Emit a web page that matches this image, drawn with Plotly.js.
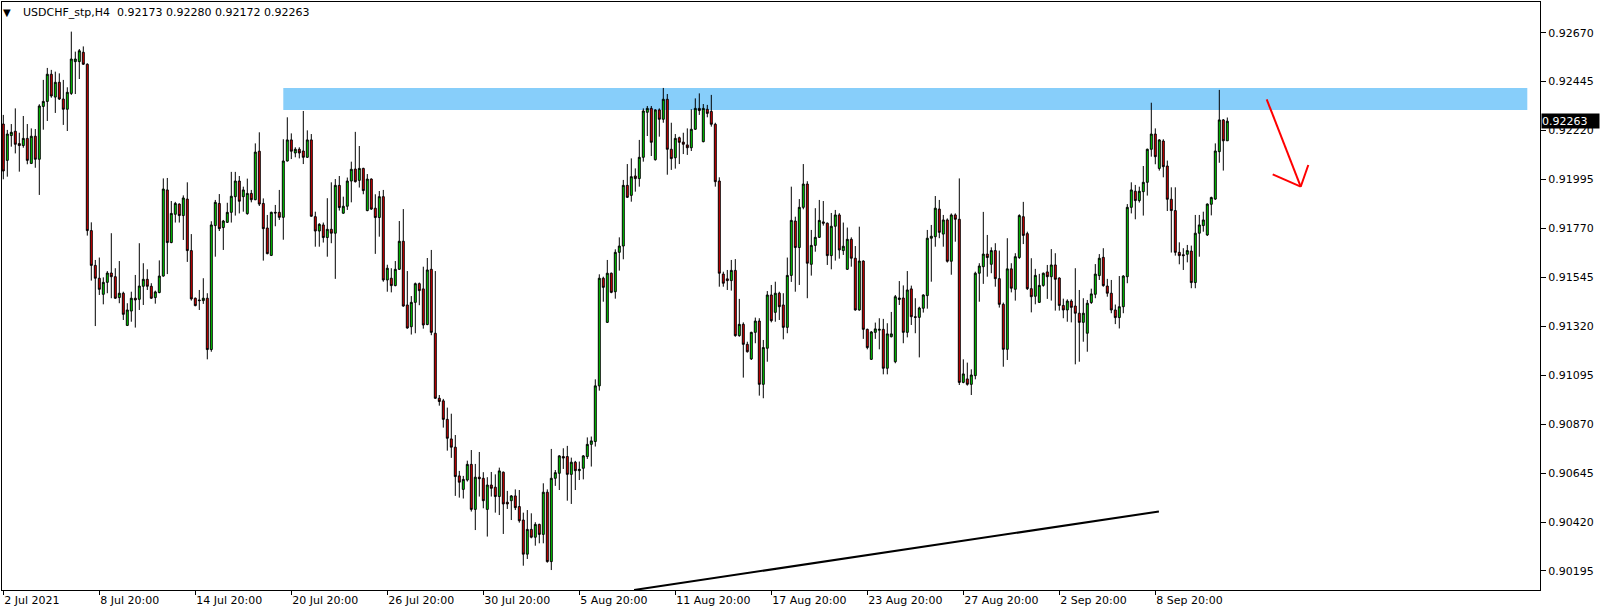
<!DOCTYPE html>
<html>
<head>
<meta charset="utf-8">
<script src="https://cdn.plot.ly/plotly-3.0.1.min.js"></script>
<style>
  html, body { margin: 0; padding: 0; background: #fff; }
  #chart { width: 1604px; height: 614px; }
</style>
</head>
<body>
<div id="chart"></div>
<script>
// ---- DATA (USDCHF_stp, H4) ----
const symbol = "USDCHF_stp,H4";

const openP = [
0.92250,0.92083,0.92197,0.92217,0.92160,0.92151,0.92184,0.92069,0.92194,0.92088,
0.92331,0.92354,0.92479,0.92374,0.92442,0.92365,0.92318,0.92391,0.92537,0.92537,
0.92580,0.92525,0.91760,0.91600,0.91541,0.91467,0.91522,0.91565,0.91548,0.91452,
0.91472,0.91324,0.91390,0.91449,0.91444,0.91504,0.91536,0.91504,0.91452,0.91475,
0.91551,0.91947,0.91705,0.91835,0.91882,0.91829,0.91905,0.91668,0.91449,0.91441,
0.91438,0.91449,0.91213,0.91783,0.91885,0.91774,0.91798,0.91844,0.91916,0.91988,
0.91916,0.91838,0.91931,0.91902,0.92125,0.91885,0.91772,0.91646,0.91844,0.91844,
0.91821,0.92080,0.92177,0.92117,0.92134,0.92126,0.92097,0.92177,0.91824,0.91758,
0.91786,0.91728,0.91766,0.91748,0.91968,0.91840,0.91872,0.91988,0.92043,0.91991,
0.92046,0.91852,0.91997,0.91863,0.91820,0.91916,0.91533,0.91541,0.91507,0.91582,
0.91711,0.91418,0.91318,0.91430,0.91516,0.91492,0.91328,0.91582,0.91288,0.90989,
0.90977,0.90892,0.90802,0.90764,0.90632,0.90570,0.90613,0.90685,0.90478,0.90626,
0.90621,0.90478,0.90590,0.90580,0.90537,0.90649,0.90511,0.90518,0.90540,0.90491,
0.90429,0.90272,0.90386,0.90350,0.90409,0.90363,0.90557,0.90238,0.90621,0.90644,
0.90721,0.90721,0.90639,0.90695,0.90656,0.90667,0.90721,0.90777,0.90790,0.91046,
0.91541,0.91338,0.91564,0.91479,0.91660,0.91689,0.91968,0.91922,0.92011,0.91999,
0.92097,0.92304,0.92322,0.92086,0.92315,0.92272,0.92364,0.92134,0.92095,0.92187,
0.92167,0.92154,0.92141,0.92226,0.92322,0.92169,0.92318,0.92308,0.92249,0.91988,
0.91560,0.91538,0.91530,0.91577,0.91277,0.91329,0.91237,0.91170,0.91292,0.91344,
0.91053,0.91219,0.91464,0.91384,0.91472,0.91418,0.91315,0.91554,0.91804,0.91682,
0.91867,0.91974,0.91605,0.91692,0.91729,0.91800,0.91794,0.91645,0.91780,0.91832,
0.91668,0.91582,0.91720,0.91633,0.91395,0.91620,0.91306,0.91168,0.91292,0.91302,
0.91306,0.91127,0.91272,0.91157,0.91443,0.91450,0.91292,0.91492,0.91364,0.91361,
0.91403,0.91461,0.91725,0.91732,0.91859,0.91744,0.91809,0.91619,0.91832,0.91812,
0.91062,0.91078,0.91053,0.91093,0.91564,0.91594,0.91652,0.91605,0.91668,0.91539,
0.91421,0.91214,0.91584,0.91490,0.91636,0.91824,0.91746,0.91493,0.91458,0.91430,
0.91508,0.91570,0.91548,0.91602,0.91542,0.91416,0.91395,0.91436,0.91413,0.91380,
0.91338,0.91288,0.91429,0.91467,0.91553,0.91637,0.91505,0.91472,0.91395,0.91360,
0.91410,0.91548,0.91867,0.91941,0.91898,0.91939,0.91982,0.92134,0.92204,0.92046,
0.92172,0.92057,0.91904,0.91852,0.91660,0.91649,0.91651,0.91666,0.91521,0.91748,
0.91783,0.91740,0.91881,0.91905,0.92123,0.92269,0.92173];

const highP = [
0.92292,0.92223,0.92250,0.92322,0.92210,0.92287,0.92250,0.92230,0.92227,0.92341,
0.92453,0.92508,0.92499,0.92491,0.92483,0.92453,0.92419,0.92675,0.92583,0.92595,
0.92607,0.92529,0.91798,0.91625,0.91636,0.91545,0.91574,0.91748,0.91587,0.91620,
0.91479,0.91426,0.91479,0.91556,0.91702,0.91610,0.91582,0.91518,0.91484,0.91623,
0.92000,0.92002,0.91896,0.91892,0.91885,0.91922,0.91982,0.91744,0.91452,0.91487,
0.91541,0.91472,0.91803,0.91901,0.91928,0.91809,0.91888,0.92030,0.92030,0.92011,
0.91962,0.91999,0.91947,0.92161,0.92212,0.91908,0.91832,0.91847,0.91878,0.91947,
0.92180,0.92281,0.92207,0.92143,0.92143,0.92310,0.92221,0.92204,0.91847,0.91794,
0.91797,0.91909,0.91982,0.91997,0.92011,0.91916,0.92004,0.92077,0.92214,0.92149,
0.92049,0.92020,0.92000,0.91927,0.91942,0.91947,0.91603,0.91587,0.91620,0.91804,
0.91859,0.91574,0.91459,0.91521,0.91521,0.91594,0.91634,0.91671,0.91574,0.91004,
0.90986,0.90946,0.90918,0.90820,0.90655,0.90632,0.90702,0.90751,0.90687,0.90742,
0.90649,0.90626,0.90650,0.90639,0.90670,0.90652,0.90563,0.90544,0.90570,0.90567,
0.90463,0.90475,0.90460,0.90419,0.90412,0.90598,0.90570,0.90756,0.90659,0.90727,
0.90759,0.90770,0.90716,0.90701,0.90698,0.90728,0.90809,0.90813,0.91076,0.91559,
0.91548,0.91625,0.91567,0.91674,0.91729,0.91993,0.92066,0.92092,0.92046,0.92177,
0.92322,0.92333,0.92333,0.92318,0.92322,0.92416,0.92388,0.92256,0.92204,0.92192,
0.92210,0.92230,0.92318,0.92368,0.92391,0.92342,0.92338,0.92384,0.92256,0.92005,
0.91571,0.91579,0.91625,0.91629,0.91446,0.91338,0.91249,0.91295,0.91360,0.91357,
0.91257,0.91482,0.91510,0.91525,0.91479,0.91472,0.91636,0.91962,0.91824,0.91905,
0.92066,0.91987,0.91763,0.91863,0.91901,0.91896,0.91797,0.91841,0.91855,0.91840,
0.91797,0.91774,0.91729,0.91689,0.91778,0.91623,0.91309,0.91298,0.91337,0.91357,
0.91354,0.91334,0.91386,0.91464,0.91528,0.91508,0.91574,0.91507,0.91449,0.91410,
0.91467,0.91763,0.91786,0.91919,0.91901,0.91832,0.91816,0.91839,0.91839,0.92000,
0.91168,0.91153,0.91122,0.91571,0.91610,0.91846,0.91740,0.91683,0.91702,0.91668,
0.91429,0.91725,0.91610,0.91656,0.91835,0.91892,0.91755,0.91633,0.91584,0.91561,
0.91567,0.91602,0.91675,0.91656,0.91545,0.91447,0.91444,0.91444,0.91587,0.91487,
0.91449,0.91441,0.91493,0.91606,0.91652,0.91679,0.91538,0.91533,0.91420,0.91551,
0.91555,0.91882,0.91982,0.91970,0.91962,0.92057,0.92137,0.92348,0.92230,0.92180,
0.92180,0.92082,0.91959,0.91959,0.91706,0.91679,0.91694,0.91691,0.91832,0.91832,
0.91847,0.91885,0.91916,0.92161,0.92407,0.92273,0.92280];

const lowP = [
0.91996,0.92008,0.92146,0.92115,0.92031,0.92141,0.92065,0.92066,0.92049,0.91924,
0.92224,0.92264,0.92371,0.92301,0.92361,0.92246,0.92218,0.92384,0.92388,0.92457,
0.92522,0.91737,0.91530,0.91321,0.91464,0.91421,0.91472,0.91449,0.91446,0.91426,
0.91349,0.91321,0.91341,0.91314,0.91395,0.91418,0.91487,0.91446,0.91424,0.91472,
0.91548,0.91560,0.91702,0.91797,0.91797,0.91717,0.91616,0.91438,0.91412,0.91395,
0.91423,0.91168,0.91203,0.91640,0.91758,0.91671,0.91795,0.91797,0.91829,0.91839,
0.91847,0.91833,0.91890,0.91900,0.91873,0.91622,0.91651,0.91643,0.91780,0.91809,
0.91718,0.92078,0.92089,0.92097,0.92092,0.92066,0.92094,0.91824,0.91686,0.91686,
0.91705,0.91640,0.91702,0.91538,0.91852,0.91837,0.91855,0.91890,0.91981,0.91958,
0.91927,0.91849,0.91855,0.91653,0.91732,0.91525,0.91479,0.91476,0.91504,0.91579,
0.91410,0.91309,0.91282,0.91288,0.91417,0.91309,0.91325,0.91279,0.90986,0.90955,
0.90854,0.90748,0.90715,0.90540,0.90532,0.90528,0.90606,0.90468,0.90383,0.90537,
0.90483,0.90353,0.90537,0.90463,0.90452,0.90365,0.90480,0.90429,0.90475,0.90417,
0.90219,0.90250,0.90345,0.90311,0.90322,0.90322,0.90233,0.90199,0.90586,0.90567,
0.90664,0.90518,0.90503,0.90567,0.90613,0.90616,0.90710,0.90675,0.90767,0.91024,
0.91433,0.91335,0.91472,0.91447,0.91576,0.91628,0.91910,0.91893,0.91939,0.91962,
0.92077,0.92195,0.92103,0.92082,0.92192,0.92256,0.92017,0.92039,0.92045,0.92066,
0.92112,0.92108,0.92126,0.92223,0.92292,0.92166,0.92281,0.92238,0.91962,0.91502,
0.91502,0.91487,0.91484,0.91272,0.91272,0.91084,0.91199,0.91165,0.91242,0.91001,
0.90989,0.91157,0.91338,0.91341,0.91349,0.91260,0.91288,0.91524,0.91479,0.91510,
0.91858,0.91449,0.91553,0.91663,0.91726,0.91783,0.91602,0.91582,0.91622,0.91631,
0.91648,0.91579,0.91594,0.91392,0.91392,0.91262,0.91214,0.91165,0.91262,0.91214,
0.91099,0.91099,0.91269,0.91150,0.91418,0.91242,0.91269,0.91326,0.91288,0.91177,
0.91383,0.91401,0.91525,0.91686,0.91725,0.91686,0.91613,0.91557,0.91709,0.91050,
0.91058,0.91047,0.91004,0.91076,0.91433,0.91515,0.91548,0.91564,0.91502,0.91406,
0.91134,0.91165,0.91476,0.91438,0.91630,0.91698,0.91487,0.91384,0.91421,0.91427,
0.91502,0.91446,0.91438,0.91392,0.91392,0.91357,0.91341,0.91338,0.91145,0.91157,
0.91249,0.91203,0.91423,0.91449,0.91533,0.91502,0.91456,0.91380,0.91330,0.91310,
0.91380,0.91518,0.91839,0.91812,0.91889,0.91829,0.91921,0.92100,0.92065,0.92036,
0.92005,0.91850,0.91659,0.91645,0.91605,0.91579,0.91614,0.91495,0.91495,0.91640,
0.91755,0.91735,0.91830,0.91901,0.92072,0.92036,0.92172];

const closeP = [
0.92034,0.92204,0.92212,0.92157,0.92151,0.92184,0.92083,0.92194,0.92088,0.92333,
0.92354,0.92479,0.92379,0.92442,0.92365,0.92318,0.92396,0.92549,0.92549,0.92587,
0.92525,0.91760,0.91600,0.91541,0.91490,0.91522,0.91565,0.91548,0.91449,0.91472,
0.91375,0.91395,0.91449,0.91441,0.91505,0.91536,0.91504,0.91449,0.91478,0.91551,
0.91951,0.91705,0.91839,0.91885,0.91829,0.91910,0.91668,0.91446,0.91415,0.91438,
0.91449,0.91213,0.91786,0.91890,0.91769,0.91804,0.91844,0.91918,0.91988,0.91895,
0.91947,0.91931,0.91902,0.92121,0.91882,0.91769,0.91654,0.91844,0.91841,0.91821,
0.92080,0.92177,0.92125,0.92134,0.92117,0.92097,0.92177,0.91826,0.91758,0.91789,
0.91728,0.91766,0.91748,0.91968,0.91866,0.91872,0.91988,0.92042,0.91985,0.92046,
0.91944,0.91997,0.91859,0.91820,0.91916,0.91533,0.91587,0.91507,0.91582,0.91711,
0.91413,0.91312,0.91430,0.91516,0.91484,0.91326,0.91579,0.91292,0.90989,0.90974,
0.90892,0.90805,0.90764,0.90629,0.90603,0.90616,0.90685,0.90478,0.90626,0.90619,
0.90518,0.90590,0.90575,0.90537,0.90655,0.90503,0.90503,0.90540,0.90486,0.90426,
0.90272,0.90386,0.90350,0.90409,0.90363,0.90557,0.90238,0.90621,0.90647,0.90724,
0.90714,0.90639,0.90695,0.90656,0.90662,0.90724,0.90777,0.90793,0.91046,0.91541,
0.91499,0.91564,0.91476,0.91660,0.91689,0.91968,0.91913,0.92008,0.91999,0.92097,
0.92310,0.92322,0.92166,0.92315,0.92272,0.92364,0.92134,0.92091,0.92184,0.92166,
0.92157,0.92141,0.92226,0.92322,0.92312,0.92322,0.92299,0.92249,0.91985,0.91564,
0.91518,0.91530,0.91577,0.91277,0.91329,0.91237,0.91203,0.91292,0.91344,0.91053,
0.91222,0.91464,0.91346,0.91472,0.91410,0.91315,0.91554,0.91807,0.91682,0.91867,
0.91974,0.91610,0.91692,0.91729,0.91807,0.91794,0.91645,0.91780,0.91832,0.91671,
0.91688,0.91720,0.91633,0.91395,0.91620,0.91306,0.91222,0.91294,0.91308,0.91306,
0.91127,0.91285,0.91285,0.91456,0.91450,0.91292,0.91487,0.91364,0.91361,0.91404,
0.91464,0.91725,0.91734,0.91863,0.91752,0.91809,0.91619,0.91832,0.91812,0.91062,
0.91101,0.91053,0.91096,0.91564,0.91597,0.91652,0.91636,0.91668,0.91539,0.91421,
0.91214,0.91584,0.91495,0.91640,0.91829,0.91738,0.91493,0.91456,0.91554,0.91508,
0.91564,0.91548,0.91602,0.91536,0.91416,0.91395,0.91436,0.91407,0.91380,0.91338,
0.91380,0.91426,0.91469,0.91560,0.91633,0.91507,0.91472,0.91395,0.91360,0.91410,
0.91551,0.91867,0.91947,0.91898,0.91941,0.91982,0.92134,0.92204,0.92100,0.92177,
0.92054,0.91904,0.91852,0.91660,0.91645,0.91645,0.91668,0.91521,0.91748,0.91786,
0.91809,0.91882,0.91912,0.92126,0.92269,0.92173,0.92263];

// time-axis labels (one every 24 H4 bars) and price-axis labels
const timeTickBars   = [0, 24, 48, 72, 96, 120, 144, 168, 192, 216, 240, 264, 288];
const timeTickLabels = ["2 Jul 2021","8 Jul 20:00","14 Jul 20:00","20 Jul 20:00","26 Jul 20:00",
  "30 Jul 20:00","5 Aug 20:00","11 Aug 20:00","17 Aug 20:00","23 Aug 20:00",
  "27 Aug 20:00","2 Sep 20:00","8 Sep 20:00"];
const priceTicks = [0.92670,0.92445,0.92220,0.91995,0.91770,0.91545,0.91320,0.91095,0.90870,0.90645,0.90420,0.90195];

// drawn objects (bar index, price)
const zoneBars   = [70, 381];
const zonePrices = [0.923145, 0.924157];
const trendBars   = [157.7, 288.9];
const trendPrices = [0.901073, 0.904683];
const arrowBars   = [315.85, 324.35, 317.35, 326.25];   // start, tip, left arm, right arm
const arrowPrices = [0.923637, 0.919618, 0.920189, 0.920616];

// ---- CHART ----
const barIdx = openP.map((_, i) => i);
const n = closeP.length;
const FONT = "DejaVu Sans, Verdana, sans-serif";

const trace = {
  type: "candlestick",
  x: barIdx, open: openP, high: highP, low: lowP, close: closeP,
  increasing: { line: { color: "#000000", width: 1 }, fillcolor: "#00e000" },
  decreasing: { line: { color: "#000000", width: 1 }, fillcolor: "#e60000" },
  whiskerwidth: 0,
  hoverinfo: "skip"
};

const shapes = [
  { type: "rect", xref: "x", yref: "y", x0: zoneBars[0], x1: zoneBars[1], y0: zonePrices[0], y1: zonePrices[1],
    fillcolor: "#87cefa", line: { width: 0 }, layer: "below" },
  { type: "line", xref: "x", yref: "y", x0: trendBars[0], y0: trendPrices[0], x1: trendBars[1], y1: trendPrices[1],
    line: { color: "#000000", width: 2 } },
  { type: "line", xref: "x", yref: "y", x0: arrowBars[0], y0: arrowPrices[0], x1: arrowBars[1], y1: arrowPrices[1],
    line: { color: "#ff0000", width: 2 } },
  { type: "line", xref: "x", yref: "y", x0: arrowBars[1], y0: arrowPrices[1], x1: arrowBars[2], y1: arrowPrices[2],
    line: { color: "#ff0000", width: 2 } },
  { type: "line", xref: "x", yref: "y", x0: arrowBars[1], y0: arrowPrices[1], x1: arrowBars[3], y1: arrowPrices[3],
    line: { color: "#ff0000", width: 2 } }
];

const headerText = symbol + "  " + [openP[n-1], highP[n-1], lowP[n-1], closeP[n-1]].map(v => v.toFixed(5)).join(" ");

const annotations = [
  { xref: "paper", yref: "paper", x: 0, y: 1, xanchor: "center", yanchor: "middle", xshift: 5, yshift: -10.5,
    text: "▼", showarrow: false, font: { family: FONT, size: 10, color: "#000" } },
  { xref: "paper", yref: "paper", x: 0, y: 1, xanchor: "left", yanchor: "middle", xshift: 18.5, yshift: -10.5,
    text: headerText, showarrow: false, font: { family: FONT, size: 11, color: "#000" } },
  { xref: "paper", yref: "y", x: 1, y: closeP[n-1], xanchor: "left", yanchor: "middle", xshift: 1,
    text: closeP[n-1].toFixed(5), showarrow: false, bgcolor: "#000000", borderpad: 0,
    width: 57, height: 14, align: "left",
    font: { family: FONT, size: 11, color: "#ffffff" } }
];

const layout = {
  width: 1604, height: 614,
  margin: { l: 2, r: 64, t: 2, b: 24, pad: 0 },
  paper_bgcolor: "#ffffff", plot_bgcolor: "#ffffff",
  showlegend: false,
  boxgap: 0.3,
  font: { family: FONT, size: 11, color: "#000" },
  xaxis: {
    type: "linear", range: [-0.325, 384.175],
    showgrid: false, zeroline: false, showline: true, mirror: true, linecolor: "#000", linewidth: 1,
    ticks: "outside", ticklen: 4, tickcolor: "#000", tickwidth: 1,
    tickmode: "array", tickvals: timeTickBars, ticktext: timeTickLabels,
    ticklabelposition: "outside right",
    tickfont: { family: FONT, size: 11, color: "#000" },
    rangeslider: { visible: false }, fixedrange: true
  },
  yaxis: {
    side: "right", range: [0.901073, 0.928112],
    showgrid: false, zeroline: false, showline: true, mirror: true, linecolor: "#000", linewidth: 1,
    ticks: "outside", ticklen: 5, tickcolor: "#000", tickwidth: 1,
    tickmode: "array", tickvals: priceTicks, ticktext: priceTicks.map(v => v.toFixed(5)),
    tickfont: { family: FONT, size: 11, color: "#000" },
    fixedrange: true
  },
  shapes: shapes,
  annotations: annotations
};

Plotly.newPlot("chart", [trace], layout, { displayModeBar: false, staticPlot: true });
</script>
</body>
</html>
